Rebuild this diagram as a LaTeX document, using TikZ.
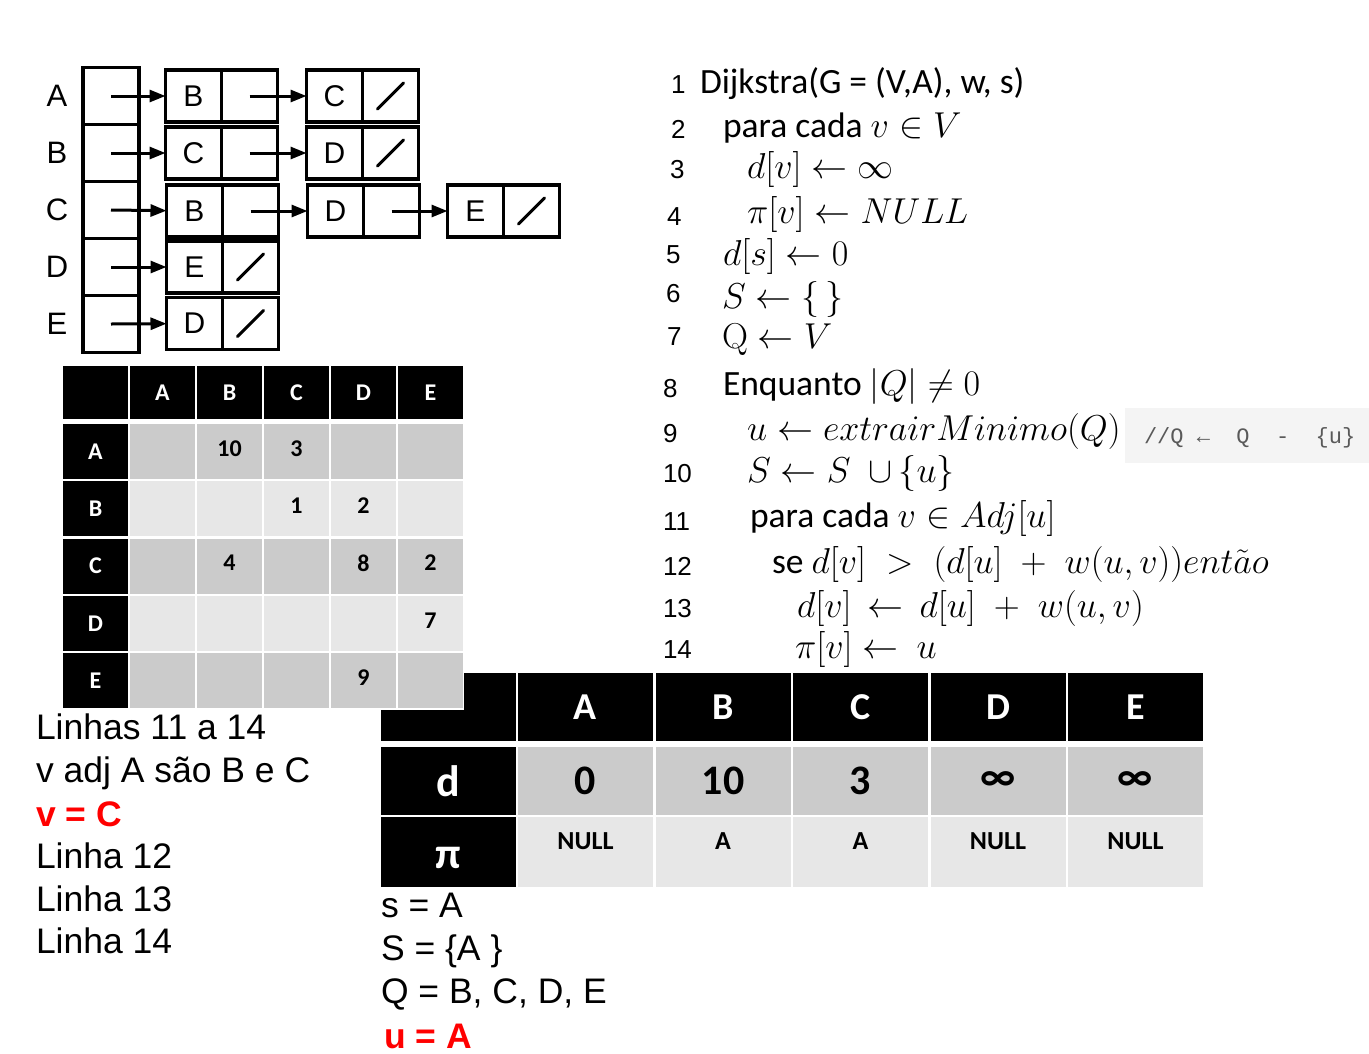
\RequirePackage{fix-cm}
\documentclass[tikz,border=0pt]{standalone}
\usepackage[no-math]{fontspec}
\setmainfont{Liberation Sans}
\newfontfamily\calibri{Carlito}
\newfontfamily\commentfont{Liberation Mono}
\usetikzlibrary{positioning,arrows.meta}

\definecolor{rowdark}{HTML}{CBCBCB}
\definecolor{rowlight}{HTML}{E7E7E7}
\definecolor{notegray}{HTML}{F4F4F4}
\newcommand{\fsz}[1]{\fontsize{#1}{#1}\selectfont}
\newcommand{\mth}[1]{{\fsz{36}\medmuskip=9mu\thickmuskip=5mu$#1$}}

\begin{document}
\begin{tikzpicture}[
		x=1pt, y=-1pt,
		every node/.style={inner sep=0pt, outer sep=0pt},
		lbl/.style={font=\fsz{31}},
		slot/.style={draw, line width=3.2pt, minimum width=56pt, minimum height=57pt},
		box/.style={draw, line width=3.2pt, minimum width=56pt, minimum height=52pt, font=\fsz{30}},
		link/.style={line width=3pt, -{Triangle[length=16pt, width=12pt]}},
		nil/.style={line width=3pt, line cap=round},
		mhead/.style={fill=black, text=white, minimum width=65pt, minimum height=53pt, font=\calibri\bfseries\fsz{24}},
		mside/.style={mhead, minimum height=55pt},
		mcell/.style={minimum width=65pt, minimum height=55pt},
		mval/.style={font=\calibri\bfseries\fsz{24}},
		thead/.style={fill=black, text=white, minimum width=135pt, minimum height=68pt, font=\calibri\bfseries\fsz{38}},
		tcell/.style={minimum width=135pt, minimum height=68pt},
		code/.style={anchor=base west, font=\calibri\fsz{35.5}},
		num/.style={anchor=base west, font=\fsz{26}},
		txt/.style={anchor=base west, font=\fsz{35.5}}
	]
	\path[use as bounding box, fill=white] (0,0) rectangle (1369,1053);

	% lista de adjacencia
	\foreach \r/\y in {A/96, B/153, C/210, D/267, E/324}{
		\node[lbl] (l\r) at (57,\y) {\r};
		\node[slot] (s\r) at (111,\y) {};
	}
	\node[box] (kAB) at (193.5,96) {B};
	\node[box, right=0pt of kAB] (pAB) {};
	\node[box, right=29pt of pAB] (kAC) {C};
	\node[box, right=0pt of kAC] (pAC) {};

	\node[box] (kBC) at (193.5,153) {C};
	\node[box, right=0pt of kBC] (pBC) {};
	\node[box, right=29pt of pBC] (kBD) {D};
	\node[box, right=0pt of kBD] (pBD) {};

	\node[box] (kCB) at (194.5,211) {B};
	\node[box, right=0pt of kCB] (pCB) {};
	\node[box, right=29pt of pCB] (kCD) {D};
	\node[box, right=0pt of kCD] (pCD) {};
	\node[box, right=28pt of pCD] (kCE) {E};
	\node[box, right=0pt of kCE] (pCE) {};

	\node[box] (kDE) at (194.5,267) {E};
	\node[box, right=0pt of kDE] (pDE) {};

	\node[box] (kED) at (194.5,323.5) {D};
	\node[box, right=0pt of kED] (pED) {};

	\foreach \r/\k in {A/AB, B/BC, C/CB, D/DE, E/ED}
		\draw[link] (s\r.center) -- (k\k);
	\foreach \a/\b in {AB/AC, BC/BD, CB/CD, CD/CE}
		\draw[link] (p\a.center) -- (k\b);
	\foreach \p in {AC, BD, CE, DE, ED}
		\draw[nil] ([shift={(-13,13)}]p\p.center) -- ([shift={(13,-13)}]p\p.center);

	% tabela d / pi
	\node[thead] (tcorner) at (448,707) {};
	\node[thead] (dlab) at (448,781) {\fsz{44}d};
	\node[thead, minimum height=70pt] (pilab) at (448,852) {};
	\node[text=white, font=\calibri\bfseries\fsz{44}] (pitxt) at (448,858) {π};
	\foreach \c/\dv/\pv [count=\i from 0] in {A/0/NULL, B/10/A, C/3/A, D/∞/NULL, E/∞/NULL}{
		\node[thead] (t\c) at (585.5+137.5*\i,707) {\c};
		\node[tcell, fill=rowdark, font=\calibri\bfseries\fsz{42}] (d\c) at (585.5+137.5*\i,781) {\dv};
		\node[tcell, fill=rowlight, minimum height=70pt] (pi\c) at (585.5+137.5*\i,852) {};
		\node[font=\calibri\bfseries\fsz{26}, below=16pt of pi\c.north] (n\c) {\pv};
	}

	% matriz de pesos
	\fill[white] (61,364) rectangle (464,710);
	\node[mhead] (mcorner) at (95.5,392.5) {};
	\foreach \c [count=\i from 0] in {A,B,C,D,E}
		\node[mhead] (h\c) at (162.5+67*\i,392.5) {\c};
	\foreach \r/\y/\f in {A/451.5/rowdark, B/508.75/rowlight, C/566/rowdark, D/623.25/rowlight, E/680.5/rowdark}{
		\node[mside] (r\r) at (95.5,\y) {\r};
		\foreach \c [count=\i from 0] in {A,B,C,D,E}
			\node[mcell, fill=\f] (m\r\c) at (162.5+67*\i,\y) {};
	}
	\foreach \m/\w in {AB/10, AC/3, BC/1, BD/2, CB/4, CD/8, CE/2, DE/7, ED/9}
		\node[mval] (v\m) at ([yshift=3pt]m\m) {\w};

	% pseudocodigo
	\node[fill=notegray, minimum width=244pt, minimum height=55pt, anchor=north west] (note) at (1125,408) {};
	\node[anchor=base west, font=\commentfont\fsz{22}, text=gray!70!black] (notetxt) at (1144,443) {//Q~←~~Q~~-~~\{u\}};

	\foreach \n/\x/\y in {1/671/93, 2/671/138, 3/670/178, 4/667/225, 5/666/263, 6/666/302, 7/667/345,
		8/663/397, 9/663/442, 10/663/482, 11/663/530, 12/663/575, 13/663/617, 14/663/658}
		\node[num] (n\n) at (\x,\y) {\n};

	\node[code] (c1) at (700,93) {Dijkstra(G = (V,A), w, s)};
	\node[code] (c2) at (723,137) {para cada \mth{v \in V}};
	\node[code] (c3) at (747,178) {\mth{d[v] \leftarrow \infty}};
	\node[code] (c4) at (747,223) {\mth{\pi[v] \leftarrow NULL}};
	\node[code] (c5) at (723,265) {\mth{d[s] \leftarrow 0}};
	\node[code] (c6) at (722,308) {\mth{S \leftarrow \{\,\}}};
	\node[code] (c7) at (722,348) {\mth{\mathrm{Q} \leftarrow V}};
	\node[code] (c8) at (723,395) {Enquanto \mth{|Q| \neq 0}};
	\node[code] (c9) at (747,440) {\mth{u \leftarrow extrairMinimo(Q)}};
	\node[code] (c10) at (747,482) {\mth{S \leftarrow S\enspace{\cup}\,\{u\}}};
	\node[code] (c11) at (750,527) {para cada \mth{v \in Adj[u]}};
	\node[code] (c12) at (772,573) {se \mth{d[v] \;>\; \Bigl(d[u] + w(u,v)\Bigr) ent\tilde{a}o}};
	\node[code] (c13) at (797,617) {\mth{d[v] \,\leftarrow\, d[u] + w(u,v)}};
	\node[code] (c14) at (795,658) {\mth{\pi[v] \leftarrow\ u}};

	% anotacoes
	\node[txt] (t1) at (36,739) {Linhas 11 a 14};
	\node[txt] (t2) at (36,782) {v adj A são B e C};
	\node[txt, text=red, font=\bfseries\fsz{35.5}] (t3) at (36,826) {v = C};
	\node[txt] (t4) at (36,868) {Linha 12};
	\node[txt] (t5) at (36,911) {Linha 13};
	\node[txt] (t6) at (36,953) {Linha 14};

	\node[txt] (b1) at (381,917) {s = A};
	\node[txt] (b2) at (381,960) {S = \{A \}};
	\node[txt] (b3) at (381,1003) {Q = B, C, D, E};
	\node[txt, text=red, font=\bfseries\fsz{35.5}] (b4) at (384,1048) {u = A};
\end{tikzpicture}
\end{document}
